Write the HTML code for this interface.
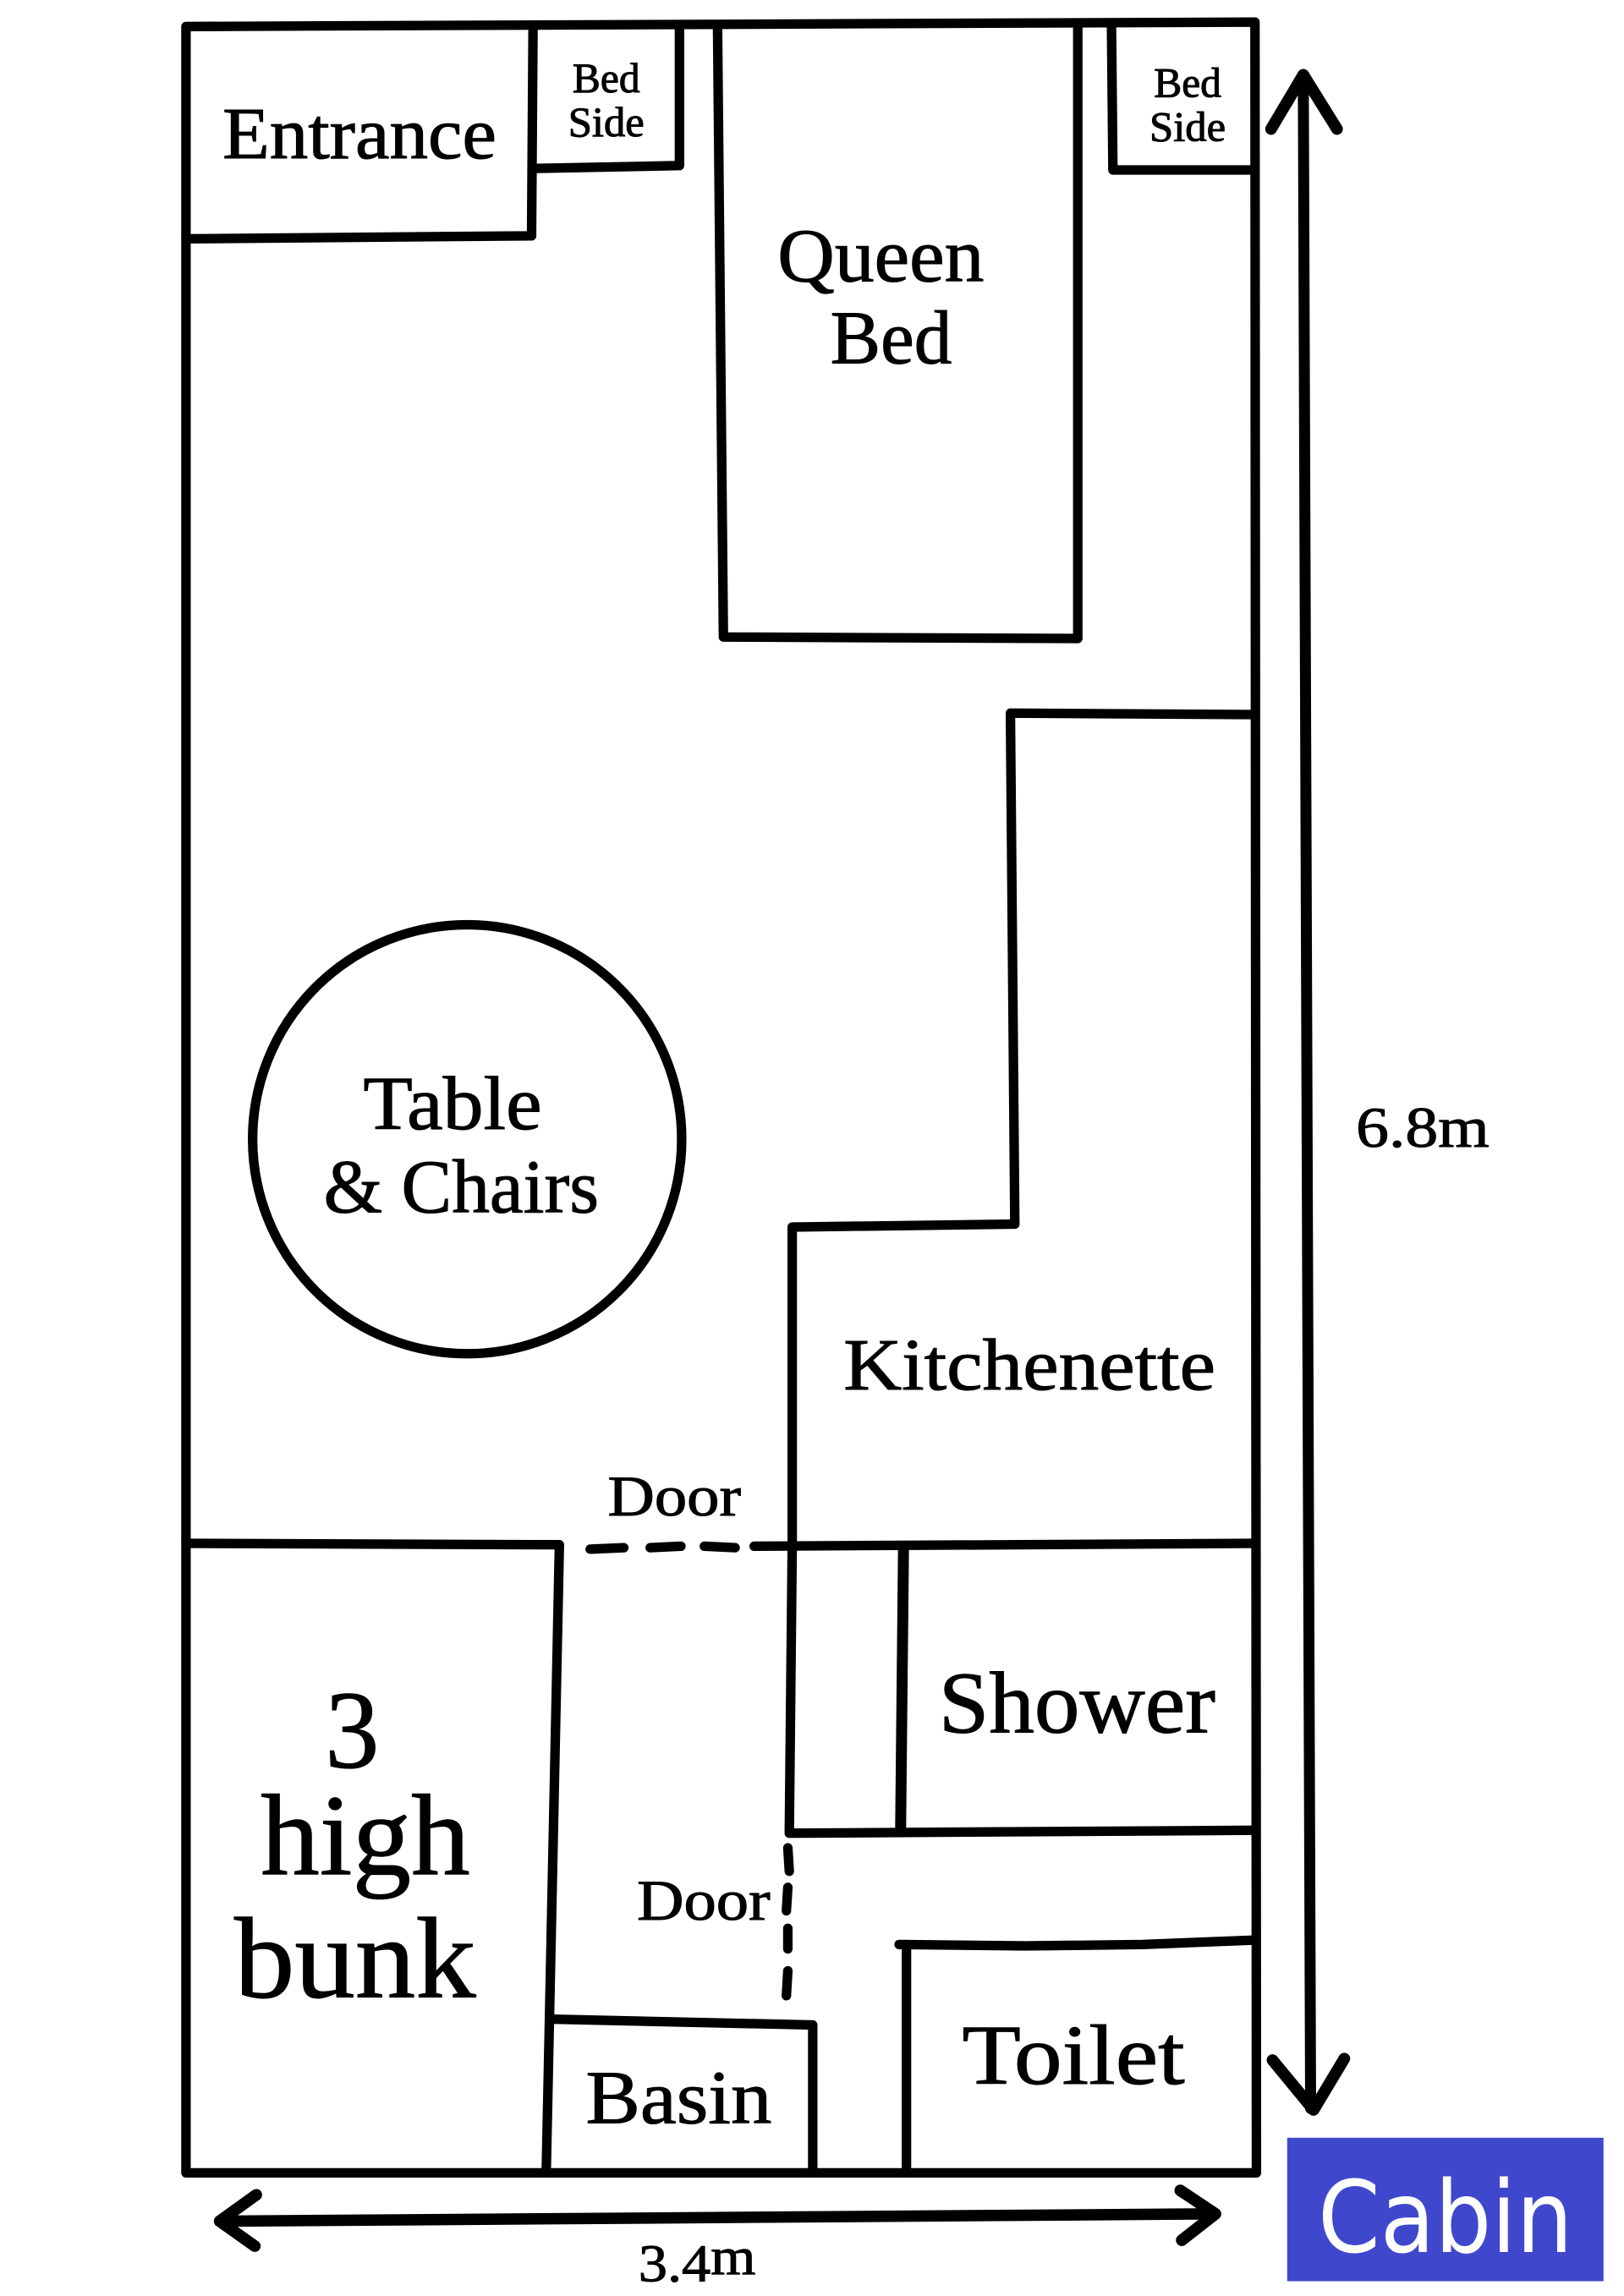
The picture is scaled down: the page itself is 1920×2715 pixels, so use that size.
<!DOCTYPE html>
<html><head><meta charset="utf-8"><title>Cabin</title>
<style>html,body{margin:0;padding:0;background:#fff}svg{display:block}
text{font-family:"Liberation Serif",serif;fill:#000;stroke:#000;stroke-width:.6}</style></head>
<body>
<svg width="1920" height="2715" viewBox="0 0 1109 1568" xmlns="http://www.w3.org/2000/svg">
<rect width="1109" height="1568" fill="#fff"/>
<g fill="none" stroke="#000" stroke-width="6.5" stroke-linecap="round" stroke-linejoin="round">
<path d="M127 18L857 15L858 1484L127 1484Z"/>
<path d="M127 163L363 161L364 18"/>
<path d="M364 115L464 113L464 18"/>
<path d="M490 18L494 435L736 436L736 16"/>
<path d="M759 16L760 116L857 116"/>
<path d="M857 488L690 487L693 836L541 838L541 1055L539 1252L857 1250"/>
<path d="M515 1056L857 1054"/>
<path d="M127 1054L382 1055L373 1484"/>
<path d="M617 1056L615 1250" stroke-width="7.5"/>
<path d="M614 1328L700 1329L780 1328L857 1325"/>
<path d="M619 1328L619 1484"/>
<path d="M377 1379L555 1383L555 1484"/>
<path d="M403 1058L426 1057M444 1057L465 1056M481 1056L502 1057"/>
<path d="M538 1262L539 1278M538 1289L537 1305M538 1317L538 1331M538 1346L537 1363"/>
<circle cx="319" cy="778" r="146.5"/>
<path d="M890 52L895 1440" stroke-width="7.5"/>
<path d="M868 88L890 51L913 88" stroke-width="8"/>
<path d="M869 1407L897 1441L918 1406" stroke-width="8"/>
<path d="M152 1517L828 1512" stroke-width="7.8"/>
<path d="M175 1499L150 1517L174 1534" stroke-width="8"/>
<path d="M806 1496L830 1512L807 1530" stroke-width="8"/>
</g>
<text x="152" y="108" font-size="50" textLength="187" lengthAdjust="spacingAndGlyphs">Entrance</text>
<text x="391" y="63" font-size="29" textLength="46" lengthAdjust="spacingAndGlyphs">Bed</text>
<text x="388" y="93" font-size="29" textLength="52" lengthAdjust="spacingAndGlyphs">Side</text>
<text x="788" y="66" font-size="29" textLength="46" lengthAdjust="spacingAndGlyphs">Bed</text>
<text x="785" y="96" font-size="29" textLength="52" lengthAdjust="spacingAndGlyphs">Side</text>
<text x="531" y="192" font-size="52" textLength="141" lengthAdjust="spacingAndGlyphs">Queen</text>
<text x="567" y="248" font-size="52" textLength="83" lengthAdjust="spacingAndGlyphs">Bed</text>
<text x="248" y="771" font-size="52" textLength="122" lengthAdjust="spacingAndGlyphs">Table</text>
<text x="221" y="828" font-size="52" textLength="188" lengthAdjust="spacingAndGlyphs">&amp; Chairs</text>
<text x="576" y="949" font-size="50" textLength="254" lengthAdjust="spacingAndGlyphs">Kitchenette</text>
<text x="415" y="1035" font-size="39" textLength="91" lengthAdjust="spacingAndGlyphs">Door</text>
<text x="435" y="1311" font-size="39" textLength="91" lengthAdjust="spacingAndGlyphs">Door</text>
<text x="641" y="1183" font-size="60" textLength="189" lengthAdjust="spacingAndGlyphs">Shower</text>
<text x="222" y="1207" font-size="76" textLength="37" lengthAdjust="spacingAndGlyphs">3</text>
<text x="178" y="1280" font-size="79" textLength="143" lengthAdjust="spacingAndGlyphs">high</text>
<text x="160" y="1364" font-size="79" textLength="165" lengthAdjust="spacingAndGlyphs">bunk</text>
<text x="657" y="1423" font-size="58" textLength="152" lengthAdjust="spacingAndGlyphs">Toilet</text>
<text x="400" y="1450" font-size="52" textLength="127" lengthAdjust="spacingAndGlyphs">Basin</text>
<text x="926" y="783" font-size="39" textLength="91" lengthAdjust="spacingAndGlyphs">6.8m</text>
<text x="436" y="1553" font-size="36" textLength="80" lengthAdjust="spacingAndGlyphs"><tspan dy="5">3.4</tspan><tspan dy="-5">m</tspan></text>
<rect x="879" y="1460" width="216" height="98" fill="#3f48cc"/>
<text x="900" y="1538" font-size="68" textLength="174" lengthAdjust="spacingAndGlyphs" style="font-family:'DejaVu Sans',sans-serif;fill:#fff;stroke:none">Cabin</text>
</svg>
</body></html>
